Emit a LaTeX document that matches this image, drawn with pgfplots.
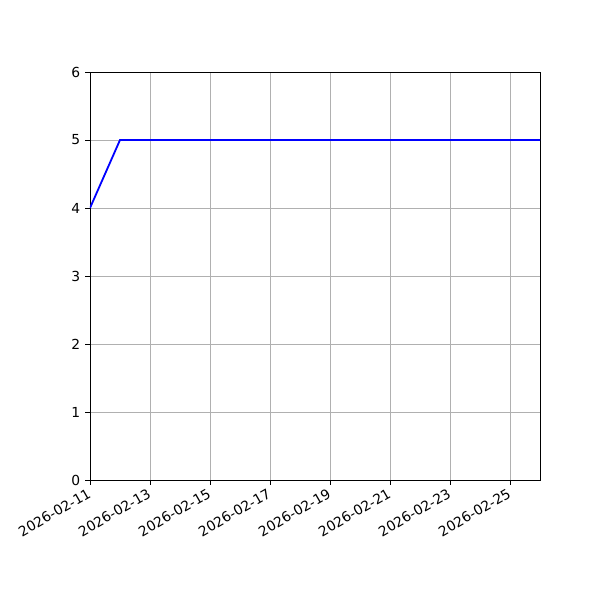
\documentclass[border=0pt]{standalone}
\usepackage{fontspec}
\setmainfont{DejaVu Sans}
\usepackage{pgfplots}
\pgfplotsset{compat=1.18}
\begin{document}
\begin{tikzpicture}
\path[use as bounding box] (-64.8bp,-86.4bp) rectangle (367.2bp,345.6bp);
\begin{axis}[
  at={(0,0)}, anchor=south west,
  scale only axis,
  width=324bp, height=293.76bp,
  xmin=0, xmax=15, ymin=0, ymax=6,
  xtick={0,2,...,14},
  xticklabels={2026-02-11,2026-02-13,2026-02-15,2026-02-17,2026-02-19,2026-02-21,2026-02-23,2026-02-25},
  x tick label style={rotate=30, anchor=north east, inner sep=0.5pt, xshift=-2.5bp},
  ytick={0,1,...,6},
  tick label style={font=\fontsize{10}{12}\selectfont},
  /pgf/number format/assume math mode=true,
  tick align=outside,
  major tick length=3.5bp,
  tick style={black, line width=0.6bp},
  axis line style={line width=0.6bp},
  xtick pos=bottom, ytick pos=left,
  grid=major,
  major grid style={color=black!31, line width=0.6bp},
]
\addplot[blue, line width=1.3bp] coordinates {(0,4) (1,5) (2,5) (4,5) (6,5) (8,5) (10,5) (12,5) (14,5) (15,5)};
\end{axis}
\end{tikzpicture}
\end{document}
